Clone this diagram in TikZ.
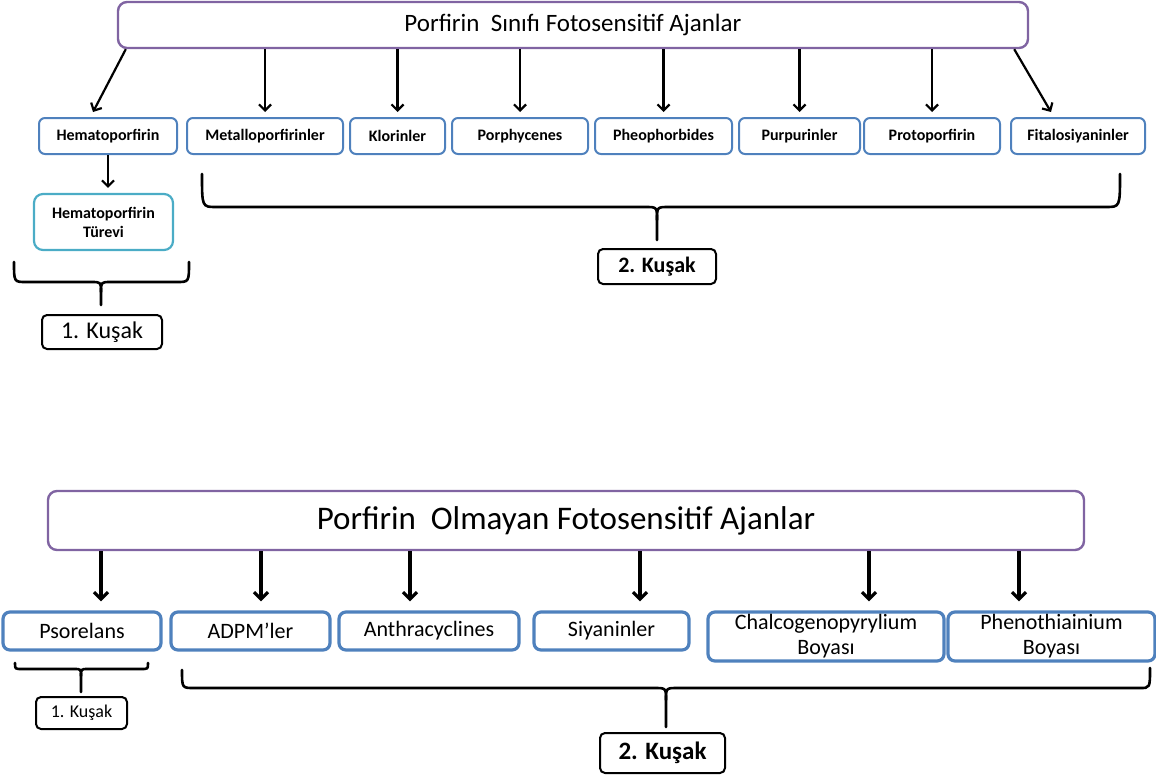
\documentclass[tikz,border=0pt]{standalone}
\usepackage{fontspec}
\setmainfont{Carlito}
\usetikzlibrary{arrows.meta}
\definecolor{purp}{HTML}{8064A2}
\definecolor{oblue}{HTML}{4F81BD}
\definecolor{ocyan}{HTML}{4BACC6}
\tikzset{
  titlebox/.style={draw=purp,line width=2.4pt,rounded corners=9pt,fill=white,inner sep=0pt},
  rowbox/.style={draw=oblue,line width=2pt,rounded corners=6pt,inner sep=0pt,font=\bfseries\fontsize{16}{19}\selectfont},
  rowboxb/.style={draw=oblue,line width=3.2pt,rounded corners=7pt,inner sep=0pt,font=\fontsize{22}{25}\selectfont},
  turbox/.style={draw=ocyan,line width=2.2pt,rounded corners=9pt,inner sep=0pt,align=center,font=\bfseries\fontsize{16}{19}\selectfont},
  genbox/.style={draw=black,line width=2pt,rounded corners=5pt,inner sep=0pt},
  arr/.style={line width=2.2pt,-{Straight Barb[length=6pt,width=12pt,line width=2.2pt]}},
  arrb/.style={line width=3.2pt,-{Straight Barb[length=7pt,width=14pt,line width=3.2pt]}},
  brace/.style={line width=2.6pt,line cap=round,line join=round},
}
\begin{document}
\begin{tikzpicture}[x=1pt,y=-1pt]
\useasboundingbox (0,0) rectangle (1156,776);
% ---------- top section ----------
\node[titlebox,minimum width=910pt,minimum height=46pt,font=\fontsize{25}{28}\selectfont] (top) at (573,25) {Porfirin\ \ Sınıfı Fotosensitif Ajanlar};
\node[rowbox,minimum width=138pt,minimum height=36pt] (hem) at (108,136) {Hematoporfirin};
\node[rowbox,minimum width=156pt,minimum height=36pt] (met) at (265,136) {Metalloporfirinler};
\node[rowbox,minimum width=95pt,minimum height=36pt] (klo) at (397.5,136) {Klorinler};
\node[rowbox,minimum width=136pt,minimum height=36pt] (por) at (520,136) {Porphycenes};
\node[rowbox,minimum width=137pt,minimum height=36pt] (phe) at (663.5,136) {Pheophorbides};
\node[rowbox,minimum width=121pt,minimum height=36pt] (pur) at (799.5,136) {Purpurinler};
\node[rowbox,minimum width=136pt,minimum height=36pt] (pro) at (932,136) {Protoporfirin};
\node[rowbox,minimum width=134pt,minimum height=36pt] (fit) at (1078,136) {Fitalosiyaninler};
\node[turbox,minimum width=139pt,minimum height=56pt] (tur) at (103.5,222) {Hematoporfirin\\Türevi};

\draw[arr] ([xshift=9pt]top.south west) -- ([xshift=-15pt,yshift=5pt]hem.north);
\draw[arr] ([xshift=-15pt]top.south east) -- ([xshift=-27pt,yshift=5pt]fit.north);
\foreach \n in {met,klo,por,phe,pur,pro}{
  \draw[arr] (top.south -| \n.north) -- ([yshift=5pt]\n.north);
}
\draw[arr] (hem.south) -- ([yshift=5pt]hem.south |- tur.north);

% generation brackets (top)
\node[genbox,minimum width=120pt,minimum height=34pt,font=\fontsize{24}{28}\selectfont] (g1a) at (102,332) {1. Kuşak};
\node[genbox,minimum width=118pt,minimum height=35pt,font=\bfseries\fontsize{22}{26}\selectfont] (g2a) at (657,266.5) {2. Kuşak};
\draw[brace] (14,262) .. controls (14,282) .. (26,282) -- (91,282) .. controls (101,282) .. (101,292) -- (101,305);
\draw[brace] (101,292) .. controls (101,282) .. (111,282) -- (177,282) .. controls (189,282) .. (189,262);
\draw[brace] (202,174) .. controls (202,207) .. (216,207) -- (645,207) .. controls (657,207) .. (657,220) -- (657,240);
\draw[brace] (657,220) .. controls (657,207) .. (669,207) -- (1106,207) .. controls (1120,207) .. (1120,174);

% ---------- bottom section ----------
\node[titlebox,minimum width=1036pt,minimum height=59pt,font=\fontsize{33}{36}\selectfont] (top2) at (566,520.5) {Porfirin\ \ Olmayan Fotosensitif Ajanlar};
\node[rowboxb,minimum width=158pt,minimum height=38pt] (pso) at (82,631) {Psorelans};
\node[rowboxb,minimum width=159pt,minimum height=38pt] (adp) at (250.5,631) {ADPM’ler};
\node[rowboxb,minimum width=180pt,minimum height=38pt] (ant) at (429,631) {Anthracyclines};
\node[rowboxb,minimum width=155pt,minimum height=38pt] (siy) at (611.5,631) {Siyaninler};
\node[rowboxb,minimum width=236pt,minimum height=49pt,align=center] (cha) at (826,636.5) {Chalcogenopyrylium\\Boyası};
\node[rowboxb,minimum width=207pt,minimum height=49pt,align=center] (phn) at (1051.5,636.5) {Phenothiainium\\Boyası};

\coordinate (pa) at ([xshift=19pt]pso.north);
\coordinate (aa) at ([xshift=10.5pt]adp.north);
\coordinate (na) at ([xshift=-19pt]ant.north);
\coordinate (sa) at ([xshift=28.5pt]siy.north);
\coordinate (ca) at ([xshift=43pt]cha.north);
\coordinate (ha) at ([xshift=-32.5pt]phn.north);
\foreach \c in {pa,aa,na,sa,ca,ha}{
  \draw[arrb] (\c |- top2.south) -- ([yshift=9pt]\c);
}

\node[genbox,minimum width=91pt,minimum height=32pt,font=\fontsize{18}{22}\selectfont] (g1b) at (81.5,713) {1. Kuşak};
\node[genbox,minimum width=125pt,minimum height=40pt,font=\bfseries\fontsize{25}{28}\selectfont] (g2b) at (662.5,753) {2. Kuşak};
\draw[brace] (15,663) .. controls (15,669) .. (22,669) -- (74,669) .. controls (81,669) .. (81,676) -- (81,692);
\draw[brace] (81,676) .. controls (81,669) .. (88,669) -- (141,669) .. controls (148,669) .. (148,663);
\draw[brace] (182,670) .. controls (182,688) .. (194,688) -- (654,688) .. controls (666,688) .. (666,700) -- (666,727);
\draw[brace] (666,700) .. controls (666,688) .. (678,688) -- (1140,688) .. controls (1150,688) .. (1150,668);
\end{tikzpicture}
\end{document}
